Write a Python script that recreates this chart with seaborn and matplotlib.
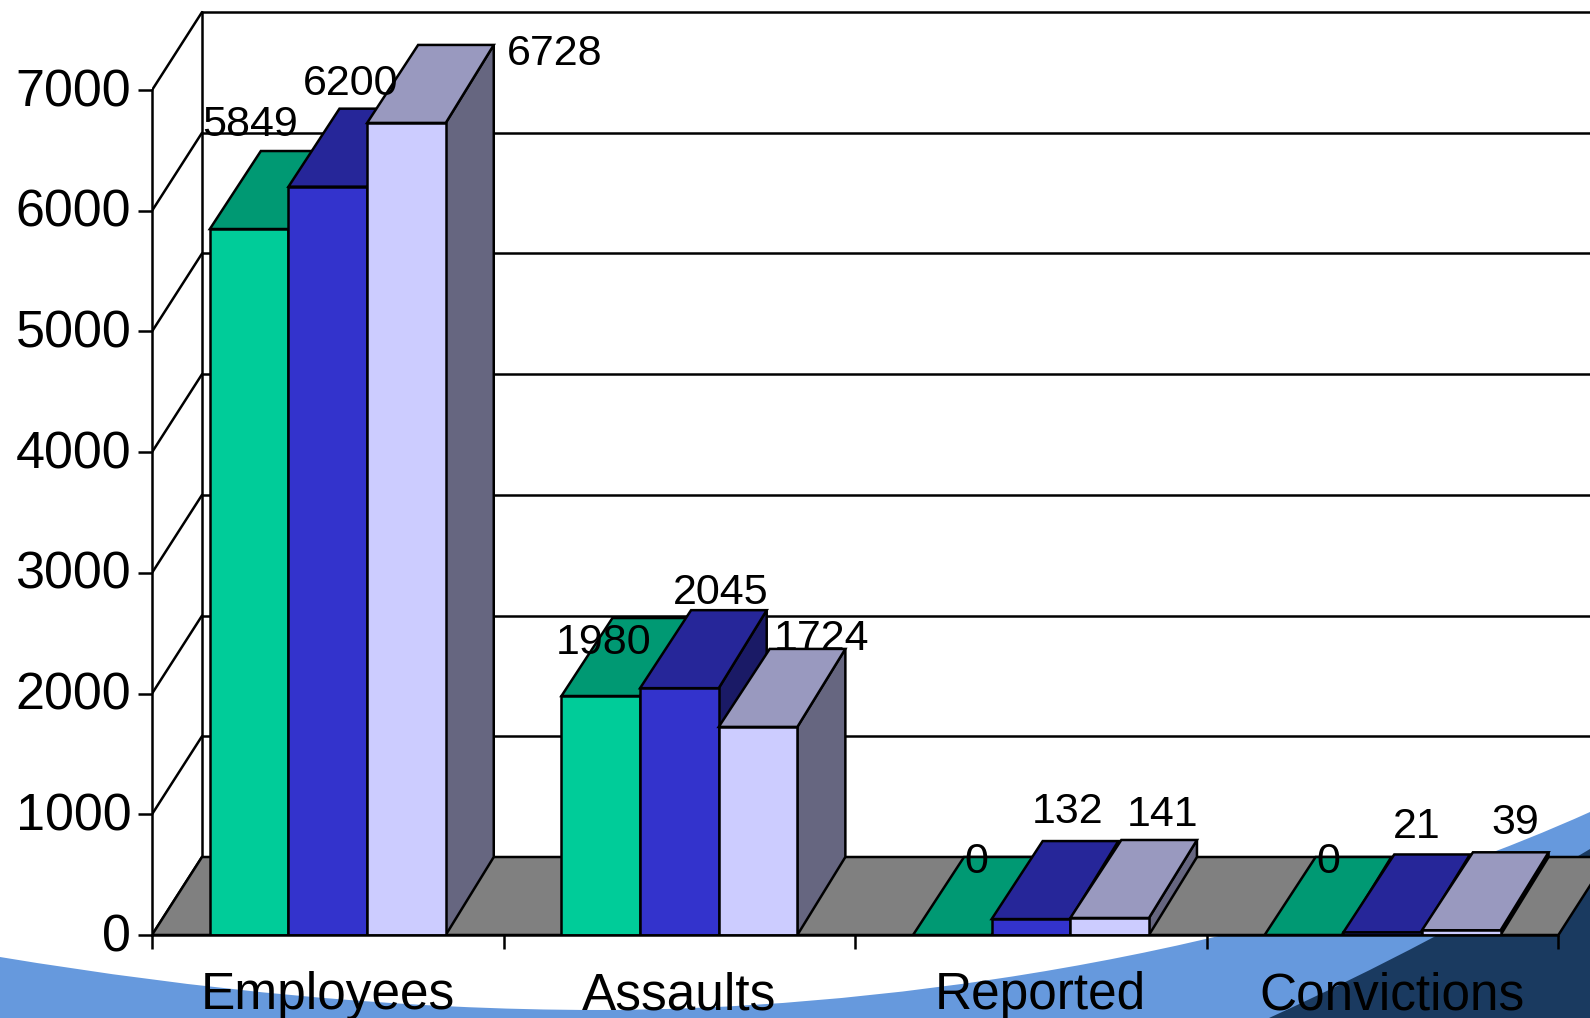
"""Faux-3D clustered bars: employees, assaults, reported, convictions."""
import matplotlib.pyplot as plt
import numpy as np
import pandas as pd
import seaborn as sns
from matplotlib.colors import to_rgb
from matplotlib.patches import PathPatch, Polygon
from matplotlib.path import Path
from matplotlib.transforms import ScaledTranslation

CATEGORIES = ["Employees", "Assaults", "Reported", "Convictions"]
SERIES_A = [5849, 1980, 0, 0]
SERIES_B = [6200, 2045, 132, 21]
SERIES_C = [6728, 1724, 141, 39]
Y_TICKS = [0, 1000, 2000, 3000, 4000, 5000, 6000, 7000]

COLORS = ["#00CC99", "#3333CC", "#CCCCFF"]
LIGHT_BLUE = "#6699DD"
NAVY = "#1A3A60"
FLOOR = "#808080"

# label offsets in pixels from the bar's back top edge, they were placed by hand
LABEL_OFFSETS = [
    [(1, 26), (3, -25), (24, -5), (24, -5)],
    [(23, 25), (41, 17), (37, 29), (34, 27)],
    [(148, -9), (63, 10), (53, 25), (54, 29)],
]
# the last two category labels sit a little right of their group
CATEGORY_SHIFT_PX = [0, 0, 9, 9]

W, H = 1590, 1018
X0_PX, Y0_PX = 152, 935
GROUP_PX = 351.6
PX_PER_1000 = 120.7

# 3D depth of the bars and of the wall, in data units
DEPTH_X = 48 / GROUP_PX
BACK_INSET = 3 / GROUP_PX
WALL_X = 50 / GROUP_PX
DEPTH_Y = 78 / PX_PER_1000 * 1000
LW = 1.8


def shade(color, factor):
    return tuple(c * factor for c in to_rgb(color))


def background(fig):
    def to_fig(pts):
        pts = np.array(pts, dtype=float)
        return np.c_[pts[:, 0] / W, 1 - pts[:, 1] / H]

    light = [(0, 957), (200, 990), (400, 1010), (600, 1010),
             (850, 1010), (1250, 965), (1590, 812),
             (1590, 1018), (0, 1018), (0, 957)]
    light_codes = [Path.MOVETO] + [Path.CURVE4] * 6 + [Path.LINETO] * 3
    dark = [(1269, 1018), (1430, 945), (1590, 849), (1590, 1018), (1269, 1018)]
    dark_codes = [Path.MOVETO, Path.CURVE3, Path.CURVE3, Path.LINETO, Path.LINETO]
    for pts, codes, col in [(light, light_codes, LIGHT_BLUE),
                            (dark, dark_codes, NAVY)]:
        fig.add_artist(PathPatch(Path(to_fig(pts), codes), facecolor=col,
                                 edgecolor="none", transform=fig.transFigure,
                                 zorder=-1))


def draw_walls(ax):
    left = -0.5
    right = len(CATEGORIES) - 0.5
    ax.add_patch(Polygon([(left, 0), (right, 0), (right + WALL_X, DEPTH_Y),
                          (left + WALL_X, DEPTH_Y)], closed=True,
                         facecolor=FLOOR, edgecolor="black", lw=LW, zorder=1.5))
    for v in Y_TICKS:
        ax.plot([left, left + WALL_X], [v, v + DEPTH_Y], color="black", lw=LW, zorder=1)
        if v > 0:
            ax.plot([left + WALL_X, right + WALL_X], [v + DEPTH_Y] * 2,
                    color="black", lw=LW, zorder=1)
    ax.plot([left + WALL_X] * 2, [DEPTH_Y, Y_TICKS[-1] + DEPTH_Y],
            color="black", lw=LW, zorder=1)


def draw_depth(ax):
    # tops and sides are built on the rectangles seaborn drew
    for i, container in enumerate(ax.containers):
        base = COLORS[i]
        for j, bar in enumerate(container):
            x, y = bar.get_x(), bar.get_height()
            w = bar.get_width()
            z = 3 + i
            bar.set_zorder(z + 0.2)
            ax.add_patch(Polygon([(x + w, 0), (x + w + DEPTH_X, DEPTH_Y),
                                  (x + w + DEPTH_X, y + DEPTH_Y), (x + w, y)],
                                 closed=True, facecolor=shade(base, 0.5),
                                 edgecolor="black", lw=LW, zorder=z))
            ax.add_patch(Polygon([(x, y), (x + w, y), (x + w + DEPTH_X, y + DEPTH_Y),
                                  (x + DEPTH_X + BACK_INSET, y + DEPTH_Y)],
                                 closed=True, facecolor=shade(base, 0.75),
                                 edgecolor="black", lw=LW, zorder=z + 0.1))
            ax.annotate(f"{y:.0f}", (x + w / 2, y + DEPTH_Y),
                        xytext=LABEL_OFFSETS[i][j], textcoords="offset pixels",
                        ha="center", va="center", fontsize=31, color="black",
                        zorder=10)


def main():
    sns.set_theme(style="white")
    plt.rcParams["font.family"] = ["Liberation Sans", "DejaVu Sans"]

    df = pd.DataFrame({
        "category": CATEGORIES * 3,
        "value": SERIES_A + SERIES_B + SERIES_C,
        "series": ["a"] * 4 + ["b"] * 4 + ["c"] * 4,
    })

    fig = plt.figure(figsize=(W / 100, H / 100), dpi=100, facecolor="white")
    ax = fig.add_axes([X0_PX / W, (H - Y0_PX) / H, 1 - X0_PX / W, Y0_PX / H])
    ax.patch.set_visible(False)
    background(fig)

    sns.barplot(data=df, x="category", y="value", hue="series", palette=COLORS,
                width=0.671, edgecolor="black", linewidth=LW, saturation=1,
                legend=False, ax=ax)
    draw_walls(ax)
    draw_depth(ax)

    ax.set_xlim(-0.5, -0.5 + (W - X0_PX) / GROUP_PX)
    ax.set_ylim(0, Y0_PX / PX_PER_1000 * 1000)
    ax.set_xlabel("")
    ax.set_ylabel("")

    sns.despine(ax=ax, top=True, right=True)
    ax.spines["left"].set_bounds(0, Y_TICKS[-1])
    ax.spines["bottom"].set_bounds(-0.5, len(CATEGORIES) - 0.5)
    for side in ("left", "bottom"):
        ax.spines[side].set_linewidth(LW)
        ax.spines[side].set_color("black")
        ax.spines[side].set_zorder(8)

    ax.set_yticks(Y_TICKS)
    ax.tick_params(axis="y", length=10, width=LW, pad=5, labelsize=37.5,
                   left=True, color="black", labelcolor="black")
    ax.set_xticks(np.arange(len(CATEGORIES) + 1) - 0.5)
    ax.set_xticklabels([])
    ax.set_xticks(np.arange(len(CATEGORIES)), labels=CATEGORIES, minor=True)
    ax.tick_params(axis="x", which="major", length=10, width=LW, bottom=True,
                   color="black")
    ax.tick_params(axis="x", which="minor", length=0, pad=26, labelsize=37,
                   labelcolor="black")

    for label in ax.get_yticklabels():
        label.set_transform(label.get_transform()
                            + ScaledTranslation(0, 3 / 100, fig.dpi_scale_trans))
    for label, shift in zip(ax.get_xticklabels(minor=True), CATEGORY_SHIFT_PX):
        label.set_transform(label.get_transform()
                            + ScaledTranslation(shift / 100, 0, fig.dpi_scale_trans))

    fig.savefig("out.png", dpi=100)
    plt.close(fig)


if __name__ == "__main__":
    main()
